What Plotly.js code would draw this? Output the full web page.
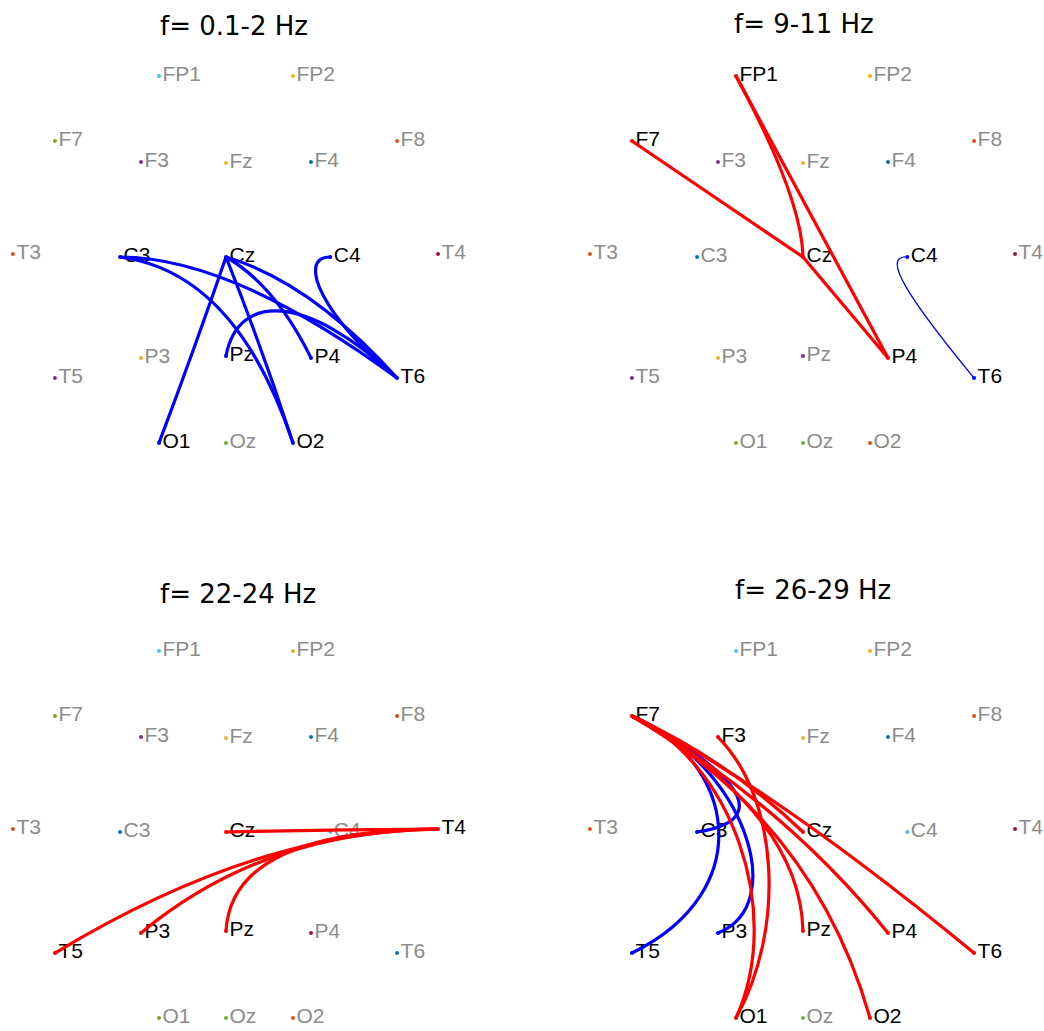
<!DOCTYPE html>
<html><head><meta charset="utf-8">
<script src="https://cdn.plot.ly/plotly-3.0.1.min.js"></script>
<style>html,body{margin:0;padding:0;background:#fff;} #chart{width:1044px;height:1031px;}</style>
</head><body><div id="chart"></div>
<script>
// ---- data ----
const elecNames = ['FP1','FP2','F7','F3','Fz','F4','F8','T3','C3','Cz','C4','T4','T5','P3','Pz','P4','T6','O1','Oz','O2'];
const elecX = [-0.316,0.316,-0.807,-0.401,0,0.401,0.807,-1.005,-0.5,0,0.492,1.0,-0.807,-0.401,0,0.401,0.807,-0.316,0,0.316];
const elecY = [0.854,0.854,0.547,0.448,0.443,0.448,0.547,0.014,0,0,0,0.014,-0.571,-0.476,-0.467,-0.476,-0.571,-0.877,-0.877,-0.877];
const elecColors = ['#4DBEEE','#EDB120','#77AC30','#7E2F8E','#EDB120','#0072BD','#D95319','#D95319','#0072BD','#A2142F','#4DBEEE','#A2142F','#7E2F8E','#EDB120','#7E2F8E','#A2142F','#0072BD','#77AC30','#77AC30','#D95319'];

const panelTitles = ['f= 0.1-2 Hz','f= 9-11 Hz','f= 22-24 Hz','f= 26-29 Hz'];

// panel 1: 0.1-2 Hz (sign -1 = negative / blue)
const edges1From = ['C3','C3','Cz','Cz','Cz','Cz','Pz','C4'];
const edges1To   = ['T6','O2','O1','O2','P4','T6','T6','T6'];
const edges1Sign = [-1,-1,-1,-1,-1,-1,-1,-1];
const edges1Weight = [1,1,1,1,1,1,1,1];
const edges1Ctrl = [[[0.028,0.0]],[[0.047,-0.071]],[[-0.142,-0.415]],[[0.170,-0.429]],[[0.231,-0.132]],[[0.401,-0.118]],[[0.057,-0.166],[0.380,-0.170]],[[0.325,0.0],[0.467,-0.297]]];

// panel 2: 9-11 Hz
const edges2From = ['FP1','FP1','F7','Cz','C4'];
const edges2To   = ['Cz','P4','Cz','P4','T6'];
const edges2Sign = [1,1,1,1,-1];
const edges2Weight = [1,1,1,1,0.4];
const edges2Ctrl = [[[-0.005,0.278]],[[0.042,0.189]],[[-0.403,0.273]],[[0.200,-0.238]],[[0.363,0.009],[0.505,-0.203]]];

// panel 3: 22-24 Hz
const edges3From = ['Cz','T5','P3','Pz'];
const edges3To   = ['T4','T4','T4','T4'];
const edges3Sign = [1,1,1,1];
const edges3Weight = [1,1,1,1];
const edges3Ctrl = [[[0.5,0.012]],[[0.151,0.009]],[[0.184,0.009]],[[0.028,0.009]]];

// panel 4: 26-29 Hz
const edges4From = ['F7','F7','F7','F7','F7','F7','F7','F7','F7','F3'];
const edges4To   = ['C3','T5','P3','Cz','P4','T6','Pz','O2','O1','O1'];
const edges4Sign = [-1,-1,-1,1,1,1,1,1,1,1];
const edges4Weight = [1,1,1,1,1,1,1,1,1,1];
const edges4Ctrl = [[[-0.429,0.354],[-0.061,0.066]],[[-0.321,0.340],[-0.203,-0.274]],[[-0.274,0.316],[-0.061,-0.344]],[[-0.344,0.330]],[[-0.099,0.142]],[[-0.146,0.212]],[[-0.014,0.090]],[[0.052,0.052]],[[-0.344,0.340],[-0.085,-0.368]],[[-0.108,0.151],[-0.085,-0.462]]];

// ---- layout helpers ----
const W = 1044, H = 1031, SCALE = 212;
const czPix = [[226,257],[803,257],[226,832],[803,832]];
const domX = [[0,0.5],[0.5,1],[0,0.5],[0.5,1]];
const domY = [[0.5,1],[0.5,1],[0,0.5],[0,0.5]];
const titlePix = [[158,26],[732,24],[158,594],[733,590]];
const RED = '#ff0000', BLUE = '#0000ff', GRAY = '#8c8c8c';

const panels = [
  {from: edges1From, to: edges1To, sign: edges1Sign, w: edges1Weight, ctrl: edges1Ctrl},
  {from: edges2From, to: edges2To, sign: edges2Sign, w: edges2Weight, ctrl: edges2Ctrl},
  {from: edges3From, to: edges3To, sign: edges3Sign, w: edges3Weight, ctrl: edges3Ctrl},
  {from: edges4From, to: edges4To, sign: edges4Sign, w: edges4Weight, ctrl: edges4Ctrl}
];

const data = [], shapes = [], annotations = [];
const layout = {
  width: W, height: H, margin: {l:0,r:0,t:0,b:0},
  paper_bgcolor: '#fff', plot_bgcolor: '#fff', showlegend: false, hovermode: false
};

panels.forEach((p, i) => {
  const sfx = i === 0 ? '' : String(i + 1);
  const [cx, cy] = czPix[i];
  const x0 = domX[i][0] * W, x1 = domX[i][1] * W;
  const yTop = H * (1 - domY[i][1]), yBot = H * (1 - domY[i][0]);
  layout['xaxis' + sfx] = {domain: domX[i], range: [(x0 - cx) / SCALE, (x1 - cx) / SCALE], visible: false, fixedrange: true};
  layout['yaxis' + sfx] = {domain: domY[i], range: [(cy - yBot) / SCALE, (cy - yTop) / SCALE], visible: false, fixedrange: true};

  // active electrodes
  const active = {};
  p.from.forEach((f, k) => {
    const col = p.sign[k] > 0 ? RED : BLUE;
    [f, p.to[k]].forEach(n => { if (!active[n] || col === RED) active[n] = col; });
  });
  const idx = n => elecNames.indexOf(n);

  // edges drawn as curves (blue first, then red on top)
  const order = p.from.map((_, k) => k).sort((a, b) => p.sign[a] - p.sign[b]);
  order.forEach(k => {
    const a = idx(p.from[k]), b = idx(p.to[k]);
    const c = p.ctrl[k];
    let path = 'M' + elecX[a] + ',' + elecY[a];
    if (c.length === 1) path += ' Q' + c[0][0] + ',' + c[0][1] + ' ' + elecX[b] + ',' + elecY[b];
    else path += ' C' + c[0][0] + ',' + c[0][1] + ' ' + c[1][0] + ',' + c[1][1] + ' ' + elecX[b] + ',' + elecY[b];
    shapes.push({type: 'path', xref: 'x' + sfx, yref: 'y' + sfx, path: path, layer: 'above',
      line: {color: p.sign[k] > 0 ? RED : BLUE, width: 3.2 * p.w[k]}});
  });

  data.push({
    type: 'scatter', mode: 'markers+text', xaxis: 'x' + sfx, yaxis: 'y' + sfx,
    x: elecX, y: elecY, text: elecNames, textposition: 'middle right', cliponaxis: false,
    marker: {size: 4, color: elecNames.map((n, j) => active[n] || elecColors[j])},
    textfont: {family: 'Liberation Sans, Arial, sans-serif', size: 21, color: elecNames.map(n => active[n] ? '#000' : GRAY)},
    hoverinfo: 'skip'
  });

  annotations.push({xref: 'paper', yref: 'paper', x: titlePix[i][0] / W, y: 1 - titlePix[i][1] / H,
    xanchor: 'left', yanchor: 'middle', showarrow: false, text: panelTitles[i],
    font: {family: 'DejaVu Sans, sans-serif', size: 26, color: '#000'}});
});

layout.shapes = shapes;
layout.annotations = annotations;
Plotly.newPlot('chart', data, layout, {staticPlot: true, displayModeBar: false});
</script></body></html>
